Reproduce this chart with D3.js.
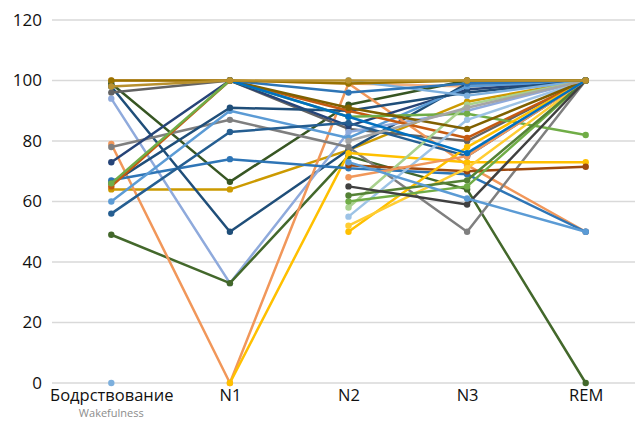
<!DOCTYPE html>
<html>
<head>
<meta charset="utf-8">
<script src="https://cdn.jsdelivr.net/npm/d3@7"></script>
<style>
  html, body { margin: 0; padding: 0; background: #fff; overflow: hidden; }
  svg { display: block; font-family: "Open Sans", "Noto Sans", sans-serif; }
</style>
</head>
<body>
<div id="chart"></div>
<script>
// sleep stages on the x axis (Russian label + English subtitle)
const stages = ["Бодрствование", "N1", "N2", "N3", "REM"];
const stageSubs = ["Wakefulness", "", "", "", ""];
const yTicks = [0, 20, 40, 60, 80, 100, 120];

// one row per subject, values per stage (null = missing)
const seriesColors = [
  "#F4B183", "#CC9A00", "#375623", "#1F4E79",
  "#636363", "#8FAADC", "#43682B", "#F1975A", "#7F7F7F", "#FFC000",
  "#264478", "#2E75B6", "#5B9BD5", "#255E91", "#1F4E79", "#C55A11",
  "#9E480E", "#70AD47", "#7CAFDD", "#FFC000", "#FFCD33", "#9DC3E6",
  "#A9D18E", "#70AD47", "#548235", "#404040", "#F1975A", "#7F6000",
  "#A5A5A5", "#5B9BD5", "#2E75B6", "#0070C0", "#997300", "#B8912F"
];
const seriesValues = [
  [100, 100, 99, 98, 100],
  [64, 64, 77, 93, 100],
  [99, 66.5, 92, 100, 100],
  [98, 50, 77, 99, 100],
  [96, 100, 84, 80, 100],
  [94, 33, 83, 90, 100],
  [49, 33, 75, 64, 0],
  [79, 0, 99, 72, 50],
  [78, 87, 78, 50, 100],
  [null, 0, 76, 73, 73],
  [73, 100, 85, 97, 100],
  [67, 74, 71, 69, 50],
  [60, 90, 81, 98, 100],
  [56, 83, 86, 75, 100],
  [66, 91, 90, 96, 100],
  [65, 100, 90, 81, 100],
  [null, null, 72, 70, 71.5],
  [66, 100, 88, 89, 82],
  [0, null, 100, 95, 100],
  [null, null, 50, 78, 100],
  [null, null, 52, 71, 100],
  [null, null, 55, 87, 100],
  [null, null, 58, 92, 100],
  [null, null, 60, 65, 100],
  [null, null, 62, 67, 100],
  [null, null, 65, 59, 100],
  [null, null, 68, 75, 100],
  [null, 100, 91, 84, 100],
  [null, null, 80, 91, 100],
  [null, null, 73, 61, 50],
  [null, 100, 96, 99, 100],
  [null, 100, 88, 76, 100],
  [100, 100, 99, 100, 100],
  [98, 100, 100, 100, 100]
];

const width = 635, height = 421;
const svg = d3.select("#chart").append("svg")
  .attr("width", width)
  .attr("height", height);

const x = d3.scalePoint().domain(stages).range([52, 645]).padding(0.5);
const y = d3.scaleLinear().domain([0, 120]).range([383, 20]);

// gridlines
svg.append("g")
  .selectAll("line")
  .data(yTicks)
  .join("line")
  .attr("x1", 52)
  .attr("x2", 645)
  .attr("y1", d => y(d))
  .attr("y2", d => y(d))
  .attr("stroke", "#d9d9d9")
  .attr("stroke-width", 1.5);

// y axis labels
const yAxis = svg.append("g")
  .attr("transform", "translate(44,0)")
  .call(d3.axisLeft(y).tickValues(yTicks).tickSize(0).tickPadding(2));
yAxis.select(".domain").remove();
yAxis.selectAll("text")
  .attr("font-family", "'Open Sans', 'Noto Sans', sans-serif")
  .attr("font-size", 17)
  .attr("fill", "#111");

// x axis labels
const xAxis = svg.append("g")
  .attr("transform", `translate(0,${y(0)})`)
  .call(d3.axisBottom(x).tickSize(0));
xAxis.select(".domain").remove();
xAxis.selectAll("text")
  .attr("y", 18)
  .attr("dy", 0)
  .attr("font-family", "'Open Sans', 'Noto Sans', sans-serif")
  .attr("font-size", 16.5)
  .attr("fill", "#111");

svg.append("g")
  .selectAll("text")
  .data(stages.map((s, i) => ({ s, sub: stageSubs[i] })).filter(d => d.sub))
  .join("text")
  .attr("x", d => x(d.s))
  .attr("y", 417)
  .attr("text-anchor", "middle")
  .attr("font-size", 11)
  .attr("fill", "#8c8c8c")
  .text(d => d.sub);

// lines + markers
const line = d3.line()
  .defined(d => d.v != null)
  .x(d => x(d.stage))
  .y(d => y(d.v));

const series = seriesValues.map((vals, i) => ({
  color: seriesColors[i],
  pts: vals.map((v, j) => ({ stage: stages[j], v }))
}));

const g = svg.append("g");
series.forEach(s => {
  g.append("path")
    .datum(s.pts)
    .attr("d", line)
    .attr("fill", "none")
    .attr("stroke", s.color)
    .attr("stroke-width", 2.5)
    .attr("stroke-linejoin", "round");
  g.selectAll(null)
    .data(s.pts.filter(d => d.v != null))
    .join("circle")
    .attr("cx", d => x(d.stage))
    .attr("cy", d => y(d.v))
    .attr("r", 3.2)
    .attr("fill", s.color);
});
</script>
</body>
</html>
